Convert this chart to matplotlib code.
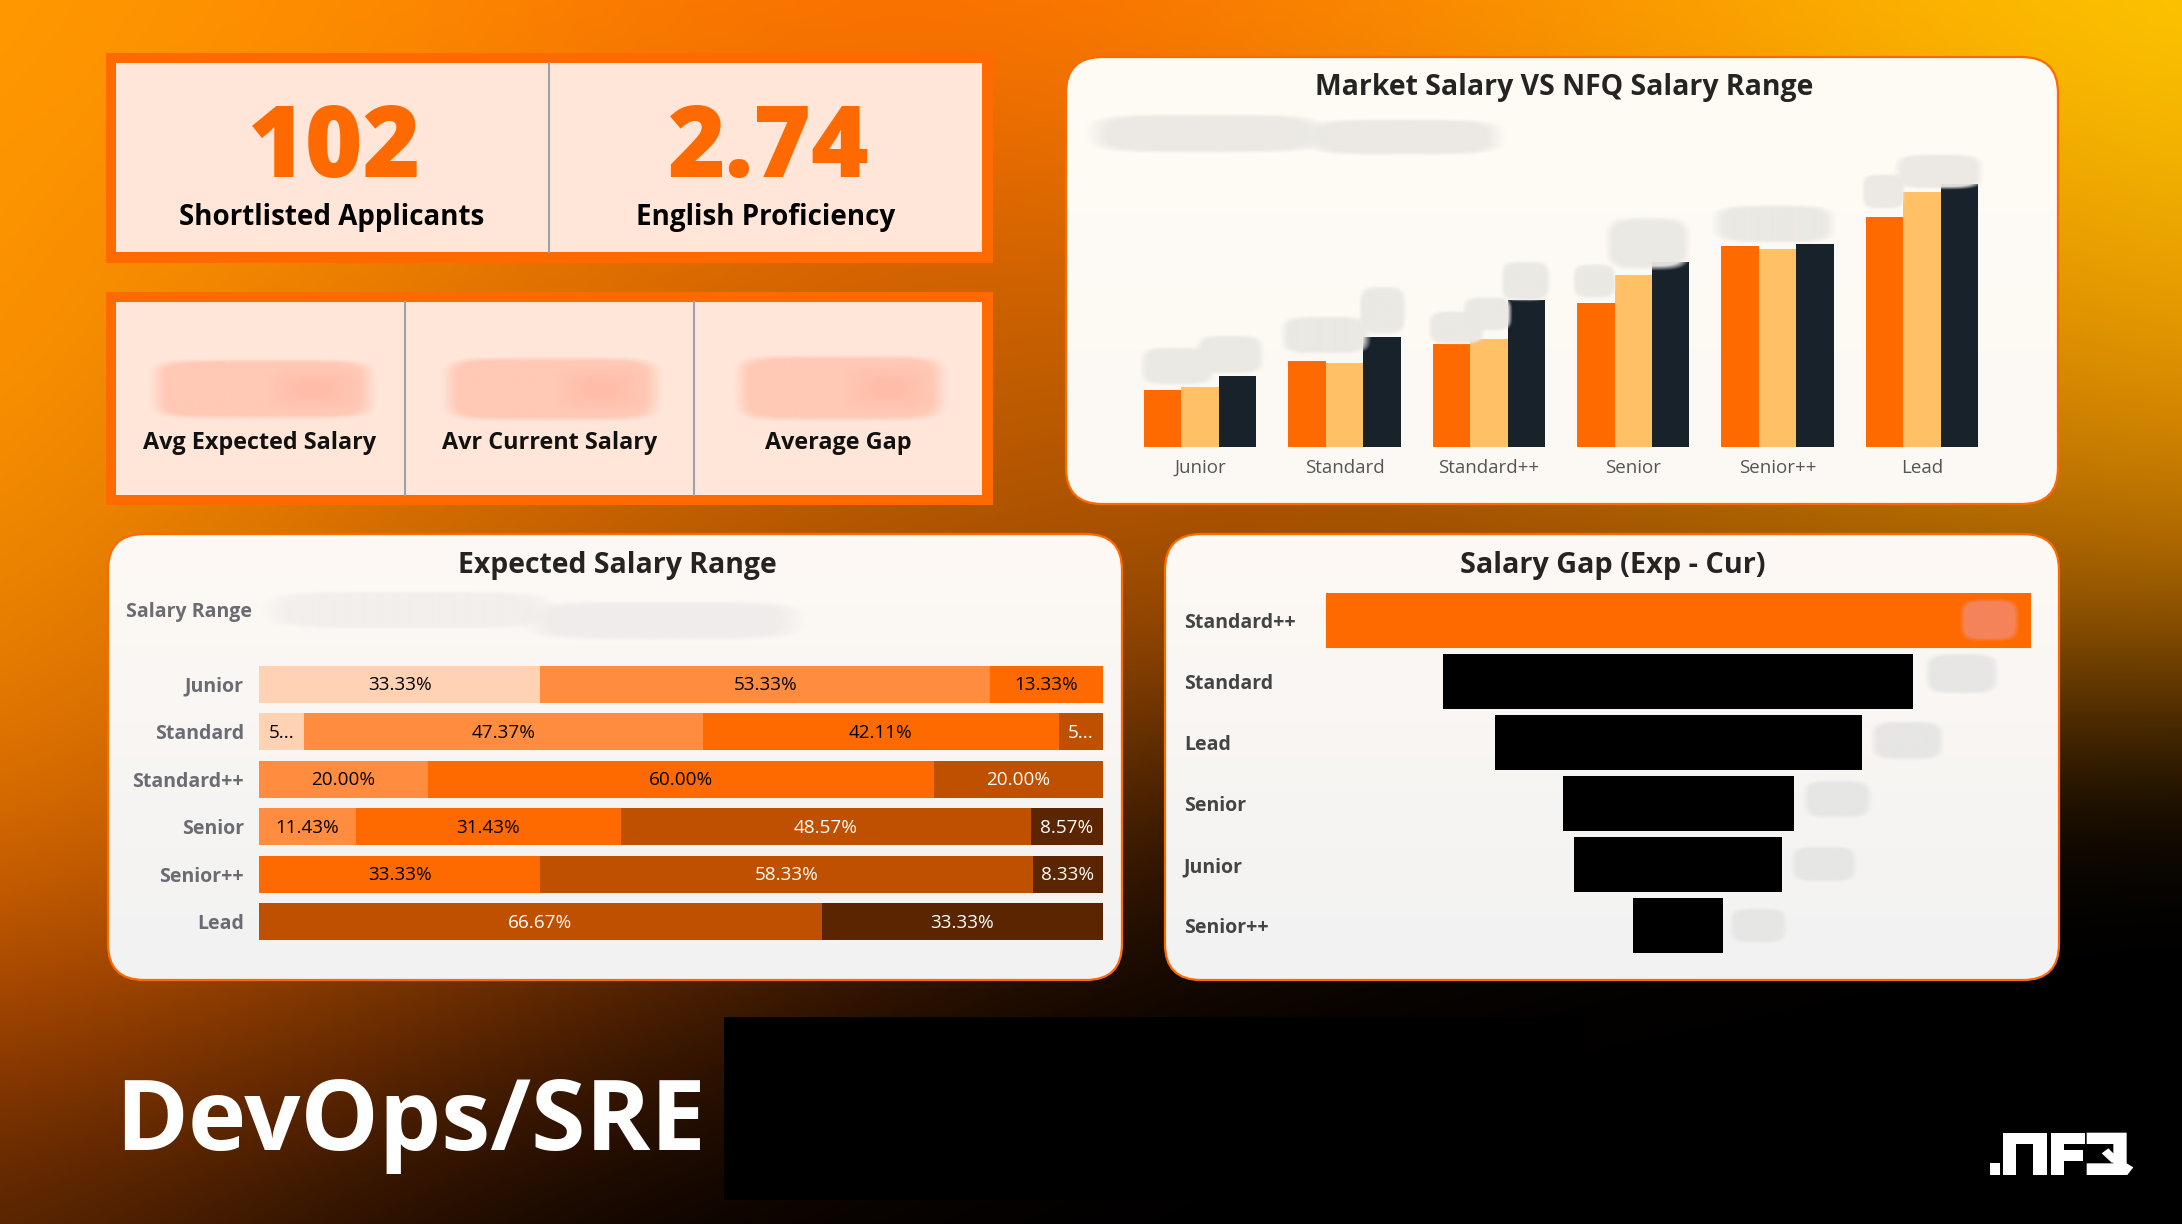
import numpy as np
import matplotlib
matplotlib.use("Agg")
import matplotlib.pyplot as plt
from matplotlib.colors import to_rgb
from matplotlib.patches import FancyBboxPatch, Rectangle, Polygon

plt.rcParams['font.family'] = ['Open Sans', 'DejaVu Sans']

W, H = 2182, 1224

levels = ['Junior', 'Standard', 'Standard++', 'Senior', 'Senior++', 'Lead']

# market vs nfq (axis unit = 1 px, real numbers are blurred in the source)
market_low = [57.7, 86.3, 103.7, 144, 201.3, 230]
market_high = [60.3, 84, 108, 172.7, 198.3, 255.7]
nfq_range = [71.7, 110, 147, 185.7, 203, 263]

# expected salary range, share per level
band_1 = [33.33, 5.26, 0, 0, 0, 0]
band_2 = [53.33, 47.37, 20.00, 11.43, 0, 0]
band_3 = [13.33, 42.11, 60.00, 31.43, 33.33, 0]
band_4 = [0, 5.26, 20.00, 48.57, 58.33, 66.67]
band_5 = [0, 0, 0, 8.57, 8.33, 33.33]
band_colors = ['#FFD2B3', '#FF8C3F', '#FF6A00', '#BF5000', '#5A2500']
band_text = ['black', 'black', 'black', 'white', 'white']

gap_levels = ['Standard++', 'Standard', 'Lead', 'Senior', 'Junior', 'Senior++']
gap_values = [705.2, 470.3, 367.1, 231.3, 207.5, 89.6]
gap_colors = ['#FF6A00', 'black', 'black', 'black', 'black', 'black']

# background colours, coarse grid that gets smoothed by imshow
bg_grid = [
    ['#FF9C00', '#FF8A00', '#FF6C00', '#FF8400', '#FFA600', '#FFCC00'],
    ['#FF9800', '#F07C00', '#D86000', '#E07000', '#E89000', '#F0B000'],
    ['#FF9400', '#D87000', '#C05C00', '#B05500', '#C07000', '#E09000'],
    ['#F08800', '#C86000', '#A85000', '#9A4A00', '#9C5400', '#9A5800'],
    ['#E07000', '#B04C00', '#6A3000', '#200E00', '#0A0500', '#000000'],
    ['#A84400', '#6A2C00', '#1A0800', '#000000', '#000000', '#000000'],
    ['#5A2600', '#100500', '#000000', '#000000', '#000000', '#000000'],
]


def px_axes(x0, y0, x1, y1, z=1):
    ax = fig.add_axes([x0 / W, 1 - y1 / H, (x1 - x0) / W, (y1 - y0) / H], zorder=z)
    ax.patch.set_alpha(0)
    for s in ax.spines.values():
        s.set_visible(False)
    return ax


def smudge(ax, x0, y0, x1, y1, color, alpha=0.95, soft=0.18, p=4):
    # soft rounded blob standing in for the blurred numbers
    u, v = np.meshgrid(np.linspace(-1, 1, 80), np.linspace(-1, 1, 80))
    d = (np.abs(u) ** p + np.abs(v) ** p) ** (1 / p)
    a = np.clip((1 - d) / soft, 0, 1)
    img = np.zeros((80, 80, 4))
    img[..., :3] = to_rgb(color)
    img[..., 3] = a * alpha
    ax.imshow(img, extent=(x0, x1, y1, y0), aspect='auto', interpolation='bilinear', zorder=5)


def card(ax, x0, y0, x1, y1, top, bottom):
    pad = 36
    box = FancyBboxPatch((x0 + pad, y0 + pad), x1 - x0 - 2 * pad, y1 - y0 - 2 * pad,
                         boxstyle=f'round,pad={pad},rounding_size={pad}',
                         fc='none', ec='#FF6A00', lw=1.6, zorder=3)
    ax.add_patch(box)
    grad = np.linspace(0, 1, 64)[:, None, None]
    img = (1 - grad) * np.array(to_rgb(top)) + grad * np.array(to_rgb(bottom))
    im = ax.imshow(img, extent=(x0, x1, y1, y0), aspect='auto', zorder=2)
    im.set_clip_path(box)


fig = plt.figure(figsize=(W / 100, H / 100), dpi=100)

bg = px_axes(0, 0, W, H, z=0)
bg.set_xlim(0, W)
bg.set_ylim(H, 0)
bg.set_autoscale_on(False)
bg.axis('off')
grid_rgb = np.array([[to_rgb(c) for c in row] for row in bg_grid])
rows, cols = grid_rgb.shape[:2]
dx, dy = W / (cols - 1), H / (rows - 1)
bg.imshow(grid_rgb, extent=(-dx / 2, W + dx / 2, H + dy / 2, -dy / 2), aspect='auto',
          interpolation='bicubic', zorder=0)

# kpi frames
for x0, y0, x1, y1, ix0, iy0, ix1, iy1, divs in [
    (106, 53, 993, 263, 116, 63, 982, 252, [549.4]),
    (106, 292, 993, 505, 116, 302, 982, 495, [405, 694.3]),
]:
    bg.add_patch(Rectangle((x0, y0), x1 - x0, y1 - y0, fc='#FF6A00', ec='none', zorder=2))
    bg.add_patch(Rectangle((ix0, iy0), ix1 - ix0, iy1 - iy0, fc='#FFE6D9', ec='none', zorder=3))
    for d in divs:
        bg.plot([d, d], [iy0, iy1], color='#A0A0A8', lw=1.5, zorder=4)

card(bg, 1066, 57, 2058, 504, '#FFFBF5', '#FCF8F3')
card(bg, 108, 534, 1122, 980, '#FEF9F4', '#F2F2F2')
card(bg, 1165, 534, 2059, 980, '#FEF9F4', '#F2F2F2')

# black box at the bottom
bg.add_patch(Rectangle((723.6, 1016.7), 860, 183.3, fc='black', ec='none', zorder=2))

# grouped columns
ax = px_axes(1127.85, 147.3, 1994.25, 447.3)
x = np.arange(len(levels))
bw = 0.778 / 3
ax.bar(x - bw, market_low, bw, color='#FF6A00')
ax.bar(x, market_high, bw, color='#FFC066')
ax.bar(x + bw, nfq_range, bw, color='#18222B')
ax.set_xlim(-0.5, 5.5)
ax.set_ylim(0, 300)
ax.set_yticks([])
ax.set_xticks(x)
ax.set_xticklabels(levels, fontsize=13.5, color='#555555')
ax.tick_params(axis='x', length=0, pad=8.5)

# stacked 100% bars
ax = px_axes(259.2, 660.45, 1102.9, 945.45)
y = np.arange(len(levels))
left = np.zeros(len(levels))
for vals, col, tcol in zip([band_1, band_2, band_3, band_4, band_5], band_colors, band_text):
    vals = np.array(vals)
    ax.barh(y, vals, 0.78, left=left, color=col)
    for i, v in enumerate(vals):
        if v > 0:
            lab = f'{v:.2f}%' if v > 6 else f'{v:.0f}...'
            ax.text(left[i] + v / 2, i + 0.02, lab, ha='center', va='center', fontsize=13.6, color=tcol)
    left += vals
ax.set_xlim(0, 100)
ax.set_ylim(5.5, -0.5)
ax.set_xticks([])
ax.set_yticks(y)
ax.set_yticklabels(levels, fontsize=14, color='#6B6B73', fontweight='bold')
ax.tick_params(axis='y', length=0, pad=11)

# funnel
ax = px_axes(1325.6, 589.7, 2030.8, 956.1)
y = np.arange(len(gap_levels))
gaps = np.array(gap_values)
ax.barh(y, gaps, 0.9, left=-gaps / 2, color=gap_colors)
ax.set_xlim(-352.6, 352.6)
ax.set_ylim(5.5, -0.5)
ax.set_xticks([])
ax.set_yticks(y)
ax.set_yticklabels(gap_levels, fontsize=14, color='#444444', fontweight='bold', ha='left')
ax.tick_params(axis='y', length=0, pad=102)

# text and blurred bits on top
top = px_axes(0, 0, W, H, z=3)
top.set_xlim(0, W)
top.set_ylim(H, 0)
top.set_autoscale_on(False)
top.axis('off')

for bx0, by0, bx1, by1 in [
    (1084, 113, 1330, 154), (1300, 118, 1507, 156), (1139, 346, 1216, 386), (1195, 334, 1265, 375),
    (1279, 315, 1372, 355), (1358, 285, 1407, 336), (1427, 310, 1486, 345),
    (1462, 296, 1513, 332), (1500, 260, 1551, 302), (1572, 263, 1617, 299),
    (1604, 216, 1692, 271), (1711, 204, 1838, 244), (1861, 173, 1906, 210),
    (1893, 153, 1985, 190),
]:
    smudge(top, bx0, by0, bx1, by1, '#EBE9E4')
for bx0, by0, bx1, by1 in [(147, 358, 379, 420), (440, 356, 664, 422), (732, 354, 949, 422)]:
    smudge(top, bx0, by0, bx1, by1, '#FFC8B5', p=6, soft=0.14)
    smudge(top, (bx0 + bx1) / 2, by0 + 8, bx1 - 15, by1 - 8, '#FFB49E', alpha=0.6, soft=0.8)
smudge(top, 260, 590, 560, 630, '#F2EFEC')
smudge(top, 520, 600, 808, 641, '#F0EDEB')
smudge(top, 1959, 598, 2020, 642, '#F58560')
for bx0, by0, bx1, by1 in [(1924, 652, 2000, 695), (1870, 720, 1945, 761), (1802, 779, 1873, 819),
                           (1790, 845, 1858, 883), (1729, 907, 1788, 944)]:
    smudge(top, bx0, by0, bx1, by1, '#E6E6E4')

top.text(334.7, 177, '102', ha='center', va='baseline', fontsize=71, fontweight=800, color='#FF6A00')
top.text(768.8, 177, '2.74', ha='center', va='baseline', fontsize=71, fontweight=800, color='#FF6A00')
top.text(332, 218, 'Shortlisted Applicants', ha='center', va='center', fontsize=20, fontweight='bold', color='black')
top.text(766, 218, 'English Proficiency', ha='center', va='center', fontsize=20, fontweight='bold', color='black')
top.text(260, 443, 'Avg Expected Salary', ha='center', va='center', fontsize=16.8, fontweight='bold', color='#111111')
top.text(549.4, 443, 'Avr Current Salary', ha='center', va='center', fontsize=16.8, fontweight='bold', color='#111111')
top.text(838.6, 443, 'Average Gap', ha='center', va='center', fontsize=16.8, fontweight='bold', color='#111111')
top.text(1564.4, 88, 'Market Salary VS NFQ Salary Range', ha='center', va='center', fontsize=20.4, fontweight='bold', color='#252423')
top.text(617.4, 565, 'Expected Salary Range', ha='center', va='center', fontsize=20.4, fontweight='bold', color='#252423')
top.text(1612.6, 565, 'Salary Gap (Exp - Cur)', ha='center', va='center', fontsize=20.8, fontweight='bold', color='#252423')
top.text(126.5, 612, 'Salary Range', ha='left', va='center', fontsize=14, fontweight='bold', color='#6B6B73')
top.text(115, 1150, 'DevOps/SRE', ha='left', va='baseline', fontsize=71, fontweight='bold', color='white')

# logo, drawn as shapes
logo = [
    [(60, 130), (90, 130), (90, 165), (60, 165)],
    [(100, 38), (232, 38), (232, 165), (190, 165), (190, 72), (138, 72), (138, 165), (100, 165)],
    [(242, 38), (345, 38), (345, 72), (282, 72), (282, 90), (340, 90), (340, 122), (282, 122), (282, 165), (242, 165)],
    [(350, 38), (470, 38), (470, 130), (490, 142), (472, 165), (350, 165), (350, 130), (430, 130), (430, 72), (350, 72)],
    [(395, 100), (415, 85), (440, 110), (440, 128), (425, 128)],
]
for shape in logo:
    top.add_patch(Polygon([(1970 + px / 3, 1120 + py / 3) for px, py in shape], fc='white', ec='none'))

fig.savefig('out.png', dpi=100)
